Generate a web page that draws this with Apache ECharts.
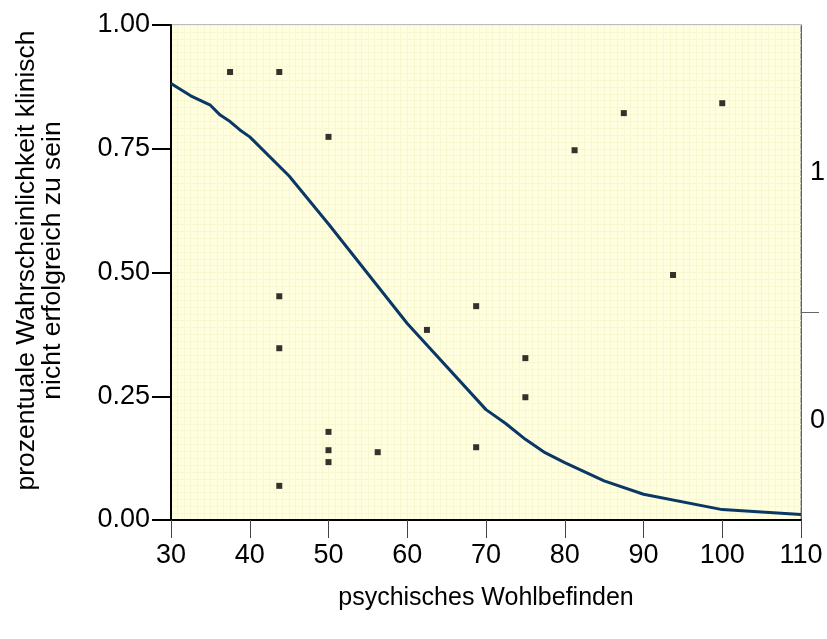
<!DOCTYPE html>
<html>
<head>
<meta charset="utf-8">
<script src="https://cdn.jsdelivr.net/npm/echarts@6/dist/echarts.min.js"></script>
<style>
  html, body { margin: 0; padding: 0; background: #fff; }
  #main { width: 827px; height: 639px; }
</style>
</head>
<body>
<div id="main"></div>
<script>
// fitted curve
const curveX = [30, 32.5, 35, 36.25, 37.5, 38.75, 40, 45, 50, 60, 70, 72.5, 75, 77.5, 80, 85, 90, 100, 110];
const curveY = [0.882, 0.857, 0.838, 0.818, 0.805, 0.788, 0.774, 0.695, 0.598, 0.397, 0.223, 0.195, 0.163, 0.136, 0.116, 0.079, 0.052, 0.021, 0.011];

// observed cases
const pointX = [37.5, 43.75, 50, 43.75, 43.75, 43.75, 50, 50, 50, 56.25, 62.5, 68.75, 68.75, 75, 75, 81.25, 87.5, 93.75, 100];
const pointY = [0.905, 0.905, 0.774, 0.452, 0.347, 0.069, 0.178, 0.141, 0.117, 0.137, 0.384, 0.432, 0.147, 0.327, 0.248, 0.747, 0.822, 0.495, 0.842];

// right axis: binary outcome
const rightLabels = [0, 1];
const rightTick = [0.435];

const chart = echarts.init(document.getElementById('main'));

const font = 'Liberation Sans, Arial, sans-serif';
const gridColor = '#f7f7d2';

chart.setOption({
    animation: false,
    textStyle: { fontFamily: font },
    grid: {
        left: 171, right: 26, top: 25, bottom: 119,
        outerBoundsMode: 'none',
        containLabel: false,
        show: true,
        backgroundColor: '#ffffe0',
        borderColor: '#777',
        borderWidth: 1
    },
    xAxis: {
        type: 'value',
        min: 30, max: 110, interval: 10,
        name: 'psychisches Wohlbefinden',
        nameLocation: 'middle',
        nameGap: 66,
        nameTextStyle: { fontSize: 25, color: '#000' },
        axisLine: { show: true, onZero: false, lineStyle: { color: '#000', width: 2 } },
        axisTick: { show: true, length: 18, lineStyle: { color: '#444', width: 1 } },
        axisLabel: { fontSize: 27, color: '#000', margin: 22 },
        splitLine: { show: true, lineStyle: { color: gridColor, width: 1 } },
        minorTick: { show: false, splitNumber: 12 },
        minorSplitLine: { show: true, lineStyle: { color: gridColor, width: 1 } }
    },
    yAxis: [{
        type: 'value',
        min: 0, max: 1, interval: 0.25,
        name: 'prozentuale Wahrscheinlichkeit klinisch\nnicht erfolgreich zu sein',
        nameLocation: 'middle',
        nameGap: 105,
        nameTextStyle: { fontSize: 26.5, color: '#000', lineHeight: 26, padding: [0, 0, 0, 24] },
        axisLine: { show: true, lineStyle: { color: '#000', width: 2 } },
        axisTick: { show: true, length: 19, lineStyle: { color: '#000', width: 2 } },
        axisLabel: { fontSize: 27, color: '#000', margin: 21, formatter: v => v.toFixed(2) },
        splitLine: { show: true, lineStyle: { color: gridColor, width: 1 } },
        minorTick: { show: false, splitNumber: 18 },
        minorSplitLine: { show: true, lineStyle: { color: gridColor, width: 1 } }
    }, {
        type: 'value',
        position: 'right',
        min: -0.403, max: 1.593,
        axisLine: { show: true, lineStyle: { color: '#666', width: 1 } },
        axisTick: { show: true, length: 18, customValues: rightTick, lineStyle: { color: '#666', width: 1 } },
        axisLabel: { fontSize: 27, color: '#000', margin: 9, customValues: rightLabels },
        splitLine: { show: false }
    }],
    series: [{
        type: 'line',
        data: curveX.map((x, i) => [x, curveY[i]]),
        showSymbol: false,
        lineStyle: { color: '#0a3766', width: 3 },
        z: 3
    }, {
        type: 'scatter',
        data: pointX.map((x, i) => [x, pointY[i]]),
        symbol: 'rect',
        symbolSize: 6,
        itemStyle: { color: '#000' },
        z: 4
    }]
});
</script>
</body>
</html>
